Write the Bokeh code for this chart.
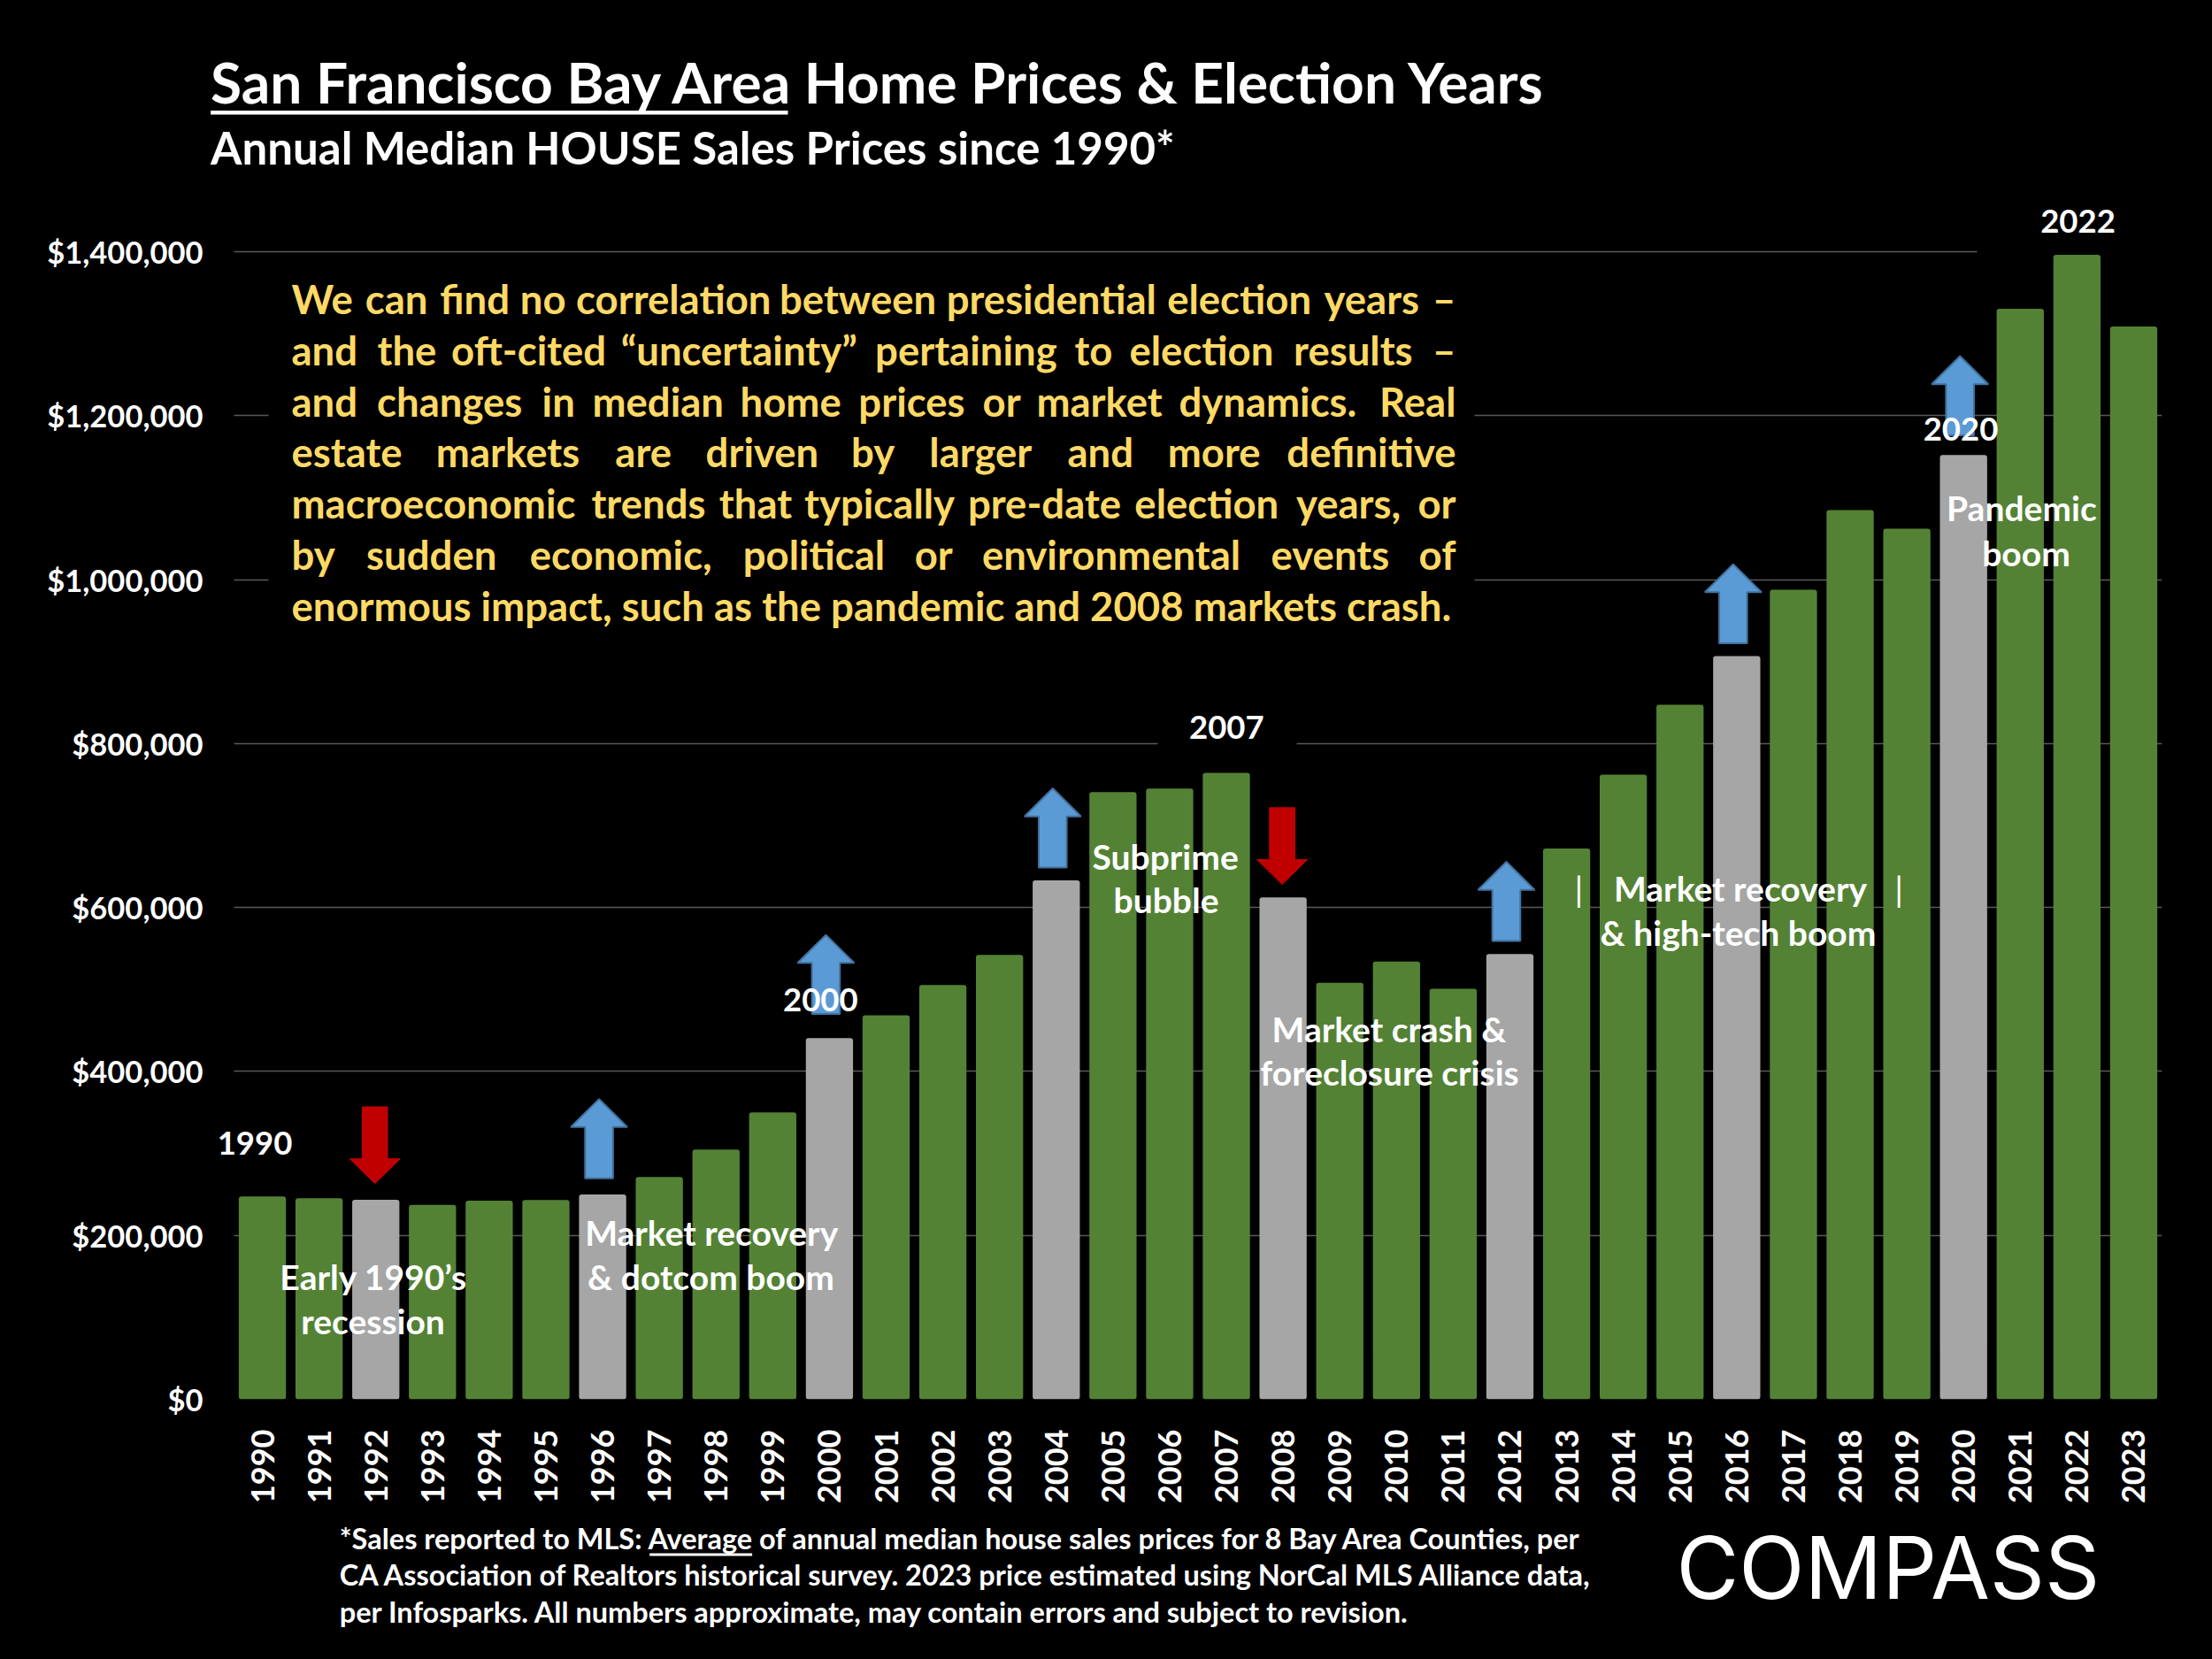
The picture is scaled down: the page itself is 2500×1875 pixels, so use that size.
import math
from bokeh.plotting import figure
from bokeh.layouts import column
from bokeh.models import Range1d, FixedTicker, NumeralTickFormatter, Label
from bokeh.embed import file_html
from bokeh.resources import INLINE

# ---------------- data ----------------
years = list(range(1990, 2024))
median_prices = [247500, 245300, 243500, 237300, 242400, 243100, 249900, 271200, 304700, 350000,
                 440700, 468400, 505500, 542200, 633200, 740800, 745000, 764200, 612400, 508300,
                 534200, 500800, 543300, 672100, 762000, 847300, 906700, 987700, 1084900, 1062200,
                 1152200, 1330400, 1396300, 1308800]
election_years = [1992, 1996, 2000, 2004, 2008, 2012, 2016, 2020]
up_arrow_years = [1996, 2000, 2004, 2012, 2016, 2020]
up_arrow_base = [269700, 470000, 648800, 559100, 922300, 1176100]
down_arrow_years = [1992, 2008]
down_arrow_top = [356800, 721800]
y_ticks = [0, 200000, 400000, 600000, 800000, 1000000, 1200000, 1400000]

title_text = "San Francisco Bay Area Home Prices & Election Years"
subtitle_text = "Annual Median HOUSE Sales Prices since 1990*"
paragraph_lines = [
    "We can find no correlation between presidential election years \u2013",
    "and the oft-cited \u201cuncertainty\u201d pertaining to election results \u2013",
    "and changes in median home prices or market dynamics. Real",
    "estate markets are driven by larger and more definitive",
    "macroeconomic trends that typically pre-date election years, or",
    "by sudden economic, political or environmental events of",
    "enormous impact, such as the pandemic and 2008 markets crash.",
]
# natural rendered width (px) of the lines that are justified in the reference
paragraph_natural_w = [1299, 1243, 1229, 1100, 1274, 1148, None]
footnote_lines = [
    "*Sales reported to MLS: Average of annual median house sales prices for 8 Bay Area Counties, per",
    "CA Association of Realtors historical survey. 2023 price estimated using NorCal MLS Alliance data,",
    "per Infosparks. All numbers approximate, may contain errors and subject to revision.",
]
# annotation texts with (center x, baseline y) in page pixels
notes = [
    ("Early 1990\u2019s", 421.7, 1457.3), ("recession", 421.0, 1507.3),
    ("Market recovery", 803.7, 1407.0), ("& dotcom boom", 803.0, 1457.0),
    ("Subprime", 1316.6, 981.5), ("bubble", 1317.5, 1031.0),
    ("Market crash &", 1569.5, 1176.7), ("foreclosure crisis", 1570.0, 1225.7),
    ("Market recovery", 1966.5, 1018.0), ("& high-tech boom", 1964.0, 1067.6),
    ("Pandemic", 2284.4, 588.3), ("boom", 2289.5, 639.3),
]
pipes = [("|", 1784.0, 1018.0), ("|", 2145.6, 1018.0)]
year_notes = [("1990", 287.5, 1304.6), ("2000", 926.8, 1143.3), ("2007", 1385.8, 835.0),
              ("2020", 2215.5, 498.3), ("2022", 2348.0, 263.3)]

# ---------------- style ----------------
GREEN = "#548235"
GRAY = "#A6A6A6"
BLUE = "#5B9BD5"
BLUE_EDGE = "#41719C"
RED = "#C00000"
YELLOW = "#FFD966"
GRID = "#595959"
FONT = "Lato"
BASELINE_FIX = 0.37   # rendered labels sit this many ems below the requested y

W = 2500
MAIN_H, FOOT_H = 1712, 163
FRAME_LEFT, FRAME_RIGHT, FRAME_BOTTOM = 236, 2443, 1581
CAT_LEFT = 264
PX_PER_YEAR = (FRAME_RIGHT - CAT_LEFT) / 34.0
PX_PER_DOLLAR = 926.36 / 1e6
X0 = 1989.5 - (CAT_LEFT - FRAME_LEFT) / PX_PER_YEAR
X1 = 2023.5
Y1 = FRAME_BOTTOM / PX_PER_DOLLAR
PARA_LEFT, PARA_RIGHT = 329, 1645


def X(xr):
    return 1989.5 + (xr - CAT_LEFT) / PX_PER_YEAR


def Y(yr):
    return (FRAME_BOTTOM - yr) / PX_PER_DOLLAR


def FY(yr):
    return -yr


def label(fig, xr, yr, text, size, ymap, xmap, color="white", align="center", style="bold", font=FONT):
    y_adj = yr - BASELINE_FIX * size
    fig.add_layout(Label(x=xmap(xr), y=ymap(y_adj), text=text, text_font=font,
                         text_font_size=f"{size}px", text_font_style=style,
                         text_color=color, text_align=align, text_baseline="alphabetic"))


# relative glyph widths, used only to spread words of a justified line
REL = {" ": 278, "a": 556, "b": 556, "c": 500, "d": 556, "e": 556, "f": 300, "g": 556, "h": 556,
       "i": 250, "j": 250, "k": 520, "l": 250, "m": 833, "n": 556, "o": 556, "p": 556, "q": 556,
       "r": 350, "s": 500, "t": 300, "u": 556, "v": 500, "w": 722, "x": 500, "y": 500, "z": 500,
       "R": 700, "W": 944, ".": 278, ",": 278, "-": 333, "\u2013": 556, "\u201c": 400, "\u201d": 400}


def est(word):
    return sum(REL.get(ch, 556) for ch in word)


def justify(line, natural_w, left, right):
    words = line.split(" ")
    units = sum(est(w) for w in words) + REL[" "] * (len(words) - 1)
    k = natural_w / units
    ww = [est(w) * k for w in words]
    gap = (right - left - sum(ww)) / (len(words) - 1)
    out, x = [], left
    for i, (w, wd) in enumerate(zip(words, ww)):
        if i == 0:
            out.append((w, x, "left"))
        elif i == len(words) - 1:
            out.append((w, right, "right"))
        else:
            out.append((w, x + wd / 2, "center"))
        x += wd + gap
    return out


# ---------------- main chart ----------------
p = figure(width=W, height=MAIN_H, x_range=Range1d(X0, X1), y_range=Range1d(0, Y1),
           output_backend="svg", toolbar_location=None, tools="",
           min_border_left=FRAME_LEFT, min_border_right=W - FRAME_RIGHT,
           min_border_top=0, min_border_bottom=MAIN_H - FRAME_BOTTOM,
           background_fill_color="black", border_fill_color="black", outline_line_color=None)

p.xgrid.grid_line_color = None
p.ygrid.ticker = FixedTicker(ticks=y_ticks)
p.ygrid.grid_line_color = GRID
p.ygrid.grid_line_width = 1.6

p.yaxis.ticker = FixedTicker(ticks=y_ticks)
p.yaxis.formatter = NumeralTickFormatter(format="$0,0")
p.xaxis.ticker = FixedTicker(ticks=years)
for ax in (p.xaxis[0], p.yaxis[0]):
    ax.axis_line_color = None
    ax.major_tick_line_color = None
    ax.minor_tick_line_color = None
    ax.major_tick_out = 0
    ax.major_tick_in = 0
    ax.major_label_text_color = "white"
    ax.major_label_text_font = FONT
    ax.major_label_text_font_style = "bold"
p.yaxis.major_label_text_font_size = "34.5px"
p.yaxis.major_label_standoff = 7
p.xaxis.major_label_text_font_size = "36px"
p.xaxis.major_label_orientation = math.pi / 2
p.xaxis.major_label_standoff = 34

# black boxes that hide gridlines (left margin strip, text panels)
boxes = [(FRAME_LEFT - 2, CAT_LEFT, 250, FRAME_BOTTOM + 3),
         (303, 1666, 300, 725), (1308, 1465, 795, 855), (2234, 2470, 215, 300)]
p.quad(left=[X(b[0]) for b in boxes], right=[X(b[1]) for b in boxes],
       top=[Y(b[2]) for b in boxes], bottom=[Y(b[3]) for b in boxes],
       fill_color="black", line_color=None)

# bars
colors = [GRAY if y in election_years else GREEN for y in years]
p.vbar(x=years, top=median_prices, width=0.832, fill_color=colors, line_color=None,
       border_radius=3)


# arrows
def up_arrow(year, base, L=89.5, hl=31.7, hw=32.0, sw=15.8, dx=-4.0):
    xc = year + dx / PX_PER_YEAR
    xx = lambda d: xc + d / PX_PER_YEAR
    yy = lambda d: base + d / PX_PER_DOLLAR
    xs = [xx(-sw), xx(sw), xx(sw), xx(hw), xx(0), xx(-hw), xx(-sw)]
    ys = [base, base, yy(L - hl), yy(L - hl), yy(L), yy(L - hl), yy(L - hl)]
    return xs, ys


def down_arrow(year, top, L=86.7, hl=28.0, hw=28.5, sw=14.3, dx=-1.0):
    xc = year + dx / PX_PER_YEAR
    xx = lambda d: xc + d / PX_PER_YEAR
    yy = lambda d: top - d / PX_PER_DOLLAR
    xs = [xx(-sw), xx(sw), xx(sw), xx(hw), xx(0), xx(-hw), xx(-sw)]
    ys = [top, top, yy(L - hl), yy(L - hl), yy(L), yy(L - hl), yy(L - hl)]
    return xs, ys


ups = [up_arrow(y, b) for y, b in zip(up_arrow_years, up_arrow_base)]
p.patches(xs=[a[0] for a in ups], ys=[a[1] for a in ups], fill_color=BLUE,
          line_color=BLUE_EDGE, line_width=2)
downs = [down_arrow(y, t) for y, t in zip(down_arrow_years, down_arrow_top)]
p.patches(xs=[a[0] for a in downs], ys=[a[1] for a in downs], fill_color=RED,
          line_color=RED, line_width=1)

# titles (inside the frame area, which reaches the top of the page)
label(p, 237.6, 116, title_text, 64, Y, X, align="left")
label(p, 237.6, 185, subtitle_text, 51, Y, X, align="left")
p.quad(left=[X(237.6)], right=[X(890)], top=[Y(124.5)], bottom=[Y(129)],
       fill_color="white", line_color=None)

# paragraph (justified like the reference where it is stretched)
for i, line in enumerate(paragraph_lines):
    yb = 353.6 + 57.9 * i
    nat = paragraph_natural_w[i]
    if nat is None:
        label(p, PARA_LEFT, yb, line, 45.5, Y, X, color=YELLOW, align="left")
    else:
        for w, xw, al in justify(line, nat, PARA_LEFT, PARA_RIGHT):
            label(p, xw, yb, w, 45.5, Y, X, color=YELLOW, align=al)

# annotations
for t, xr, yr in notes:
    label(p, xr, yr, t, 39, Y, X)
for t, xr, yr in pipes:
    label(p, xr, yr, t, 39, Y, X, style="normal")
for t, xr, yr in year_notes:
    label(p, xr, yr, t, 36.5, Y, X)

# ---------------- footer ----------------
foot = figure(width=W, height=FOOT_H, x_range=Range1d(FRAME_LEFT, FRAME_RIGHT),
              y_range=Range1d(-(MAIN_H + FOOT_H), -MAIN_H),
              x_axis_type=None, y_axis_type=None,
              output_backend="svg", toolbar_location=None, tools="",
              min_border_left=FRAME_LEFT, min_border_right=W - FRAME_RIGHT,
              min_border_top=0, min_border_bottom=0,
              background_fill_color="black", border_fill_color="black", outline_line_color=None)
ident = lambda v: v
for i, line in enumerate(footnote_lines):
    label(foot, 383.3, 1750 + 41.3 * i, line, 32.5, FY, ident, align="left")
foot.quad(left=[733.7], right=[849.6], top=[-1755], bottom=[-1758], fill_color="white", line_color=None)
label(foot, 1894, 1806.7, "COMPASS", 97, FY, ident, align="left", style="normal", font="Inter")

layout = column(p, foot, spacing=0)
html = file_html(layout, INLINE)
html = html.replace("<head>", "<head><style>html, body { margin: 0; padding: 0; background: #000000; overflow: hidden; }</style>", 1)
open("out.html", "w").write(html)
